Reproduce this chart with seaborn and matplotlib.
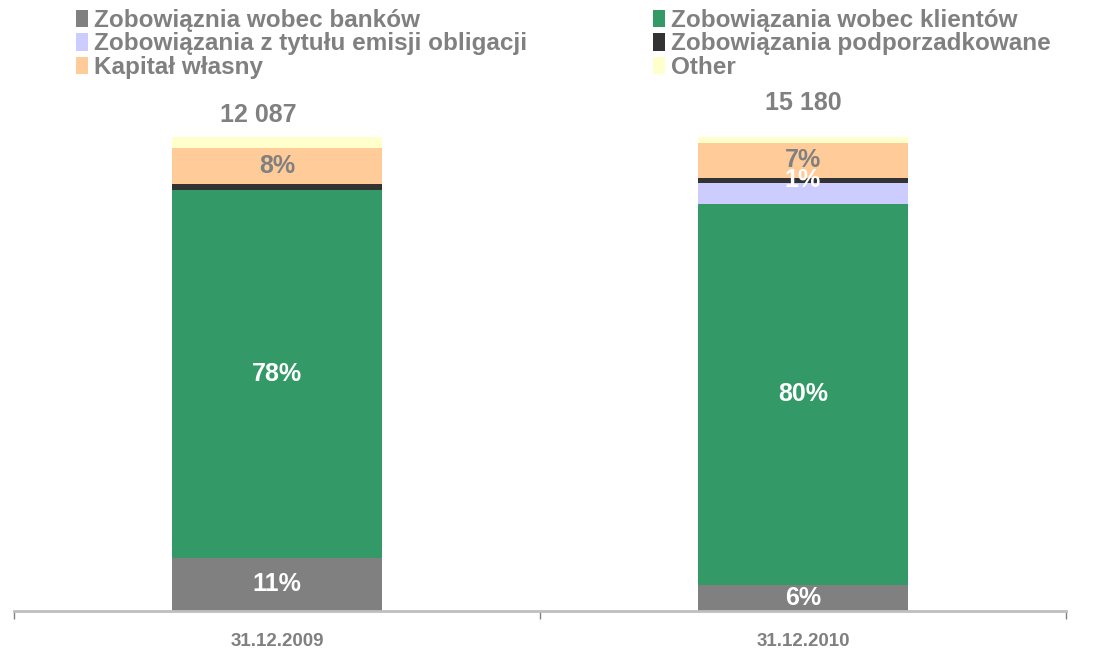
import matplotlib
matplotlib.use('Agg')
import matplotlib.pyplot as plt
from matplotlib.patches import Patch
import pandas as pd
import seaborn as sns
import numpy as np

sns.set_theme(style='white')
plt.rcParams['font.family'] = ['Liberation Sans', 'DejaVu Sans']

# ---- data (share of balance sheet total, %) ----
dates = ['31.12.2009', '31.12.2010']
totals = ['12 087', '15 180']

names = ['Zobowiąznia wobec banków', 'Zobowiązania wobec klientów',
         'Zobowiązania z tytułu emisji obligacji', 'Zobowiązania podporzadkowane',
         'Kapitał własny', 'Other']
banks = [11.2, 5.5]
clients = [77.6, 80.4]
bonds = [0.0, 4.4]
subordinated = [1.3, 1.1]
equity = [7.6, 7.4]
other = [2.3, 1.2]

# which segments get a % label
show_banks = [True, True]
show_clients = [True, True]
show_bonds = [False, False]
show_sub = [False, True]
show_equity = [True, True]
show_other = [False, False]

colors = ['#808080', '#339966', '#CCCCFF', '#333333', '#FFCC99', '#FFFFCC']
label_colors = ['white', 'white', 'white', 'white', '#808080', '#808080']
grey = '#808080'

values = [banks, clients, bonds, subordinated, equity, other]
shows = [show_banks, show_clients, show_bonds, show_sub, show_equity, show_other]

fig = plt.figure(figsize=(11, 6.53), dpi=100)
ax = fig.add_axes([14 / 1100, 42 / 653, 1052 / 1100, 474 / 653])

bottom = np.zeros(len(dates))
for name, vals, col, lcol, show in zip(names, values, colors, label_colors, shows):
    df = pd.DataFrame({'date': dates, 'val': vals})
    sns.barplot(data=df, x='date', y='val', color=col, width=0.4, bottom=bottom,
                saturation=1, ax=ax, linewidth=0)
    for i, v in enumerate(vals):
        if show[i]:
            ax.text(i, bottom[i] + v / 2, f'{v:.0f}%', ha='center', va='center',
                    color=lcol, fontsize=18, fontweight='bold', clip_on=False)
    bottom = bottom + np.array(vals)

# totals above bars
total_pad = [4.6, 7.2]
for i, t in enumerate(totals):
    ax.text(i - 0.035 * (1 - i), bottom[i] + total_pad[i], t, ha='center', va='center',
            color=grey, fontsize=18, fontweight='bold')

ax.set_xlim(-0.5, 1.5)
ax.set_ylim(0, 100)
ax.set_xlabel('')
ax.set_ylabel('')
ax.set_yticks([])
for s in ['top', 'right', 'left']:
    ax.spines[s].set_visible(False)
ax.spines['bottom'].set_color('#BFBFBF')
ax.spines['bottom'].set_linewidth(2)

ax.set_xticks([0, 1])
ax.set_xticklabels(dates, fontsize=13.5, fontweight='bold', color=grey)
ax.set_xticks([-0.5, 0.5, 1.5], minor=True)
ax.tick_params(axis='x', which='major', length=0, pad=16)
ax.tick_params(axis='x', which='minor', length=6, width=1, color=grey, direction='out', bottom=True)

handles = [Patch(facecolor=c, edgecolor='none') for c in colors]
leg_kw = dict(frameon=False, fontsize=17.5, handlelength=0.5, handleheight=0.75,
              handletextpad=0.25, labelspacing=0.02, borderaxespad=0, borderpad=0)
leg1 = fig.legend([handles[0], handles[2], handles[4]], [names[0], names[2], names[4]],
                  loc='upper left', bbox_to_anchor=(76 / 1100, 1 - 9 / 653), **leg_kw)
leg2 = fig.legend([handles[1], handles[3], handles[5]], [names[1], names[3], names[5]],
                  loc='upper left', bbox_to_anchor=(653 / 1100, 1 - 9 / 653), **leg_kw)
for leg in [leg1, leg2]:
    for t in leg.get_texts():
        t.set_color(grey)
        t.set_fontweight('bold')

fig.savefig('out.png', dpi=100, facecolor='white')
